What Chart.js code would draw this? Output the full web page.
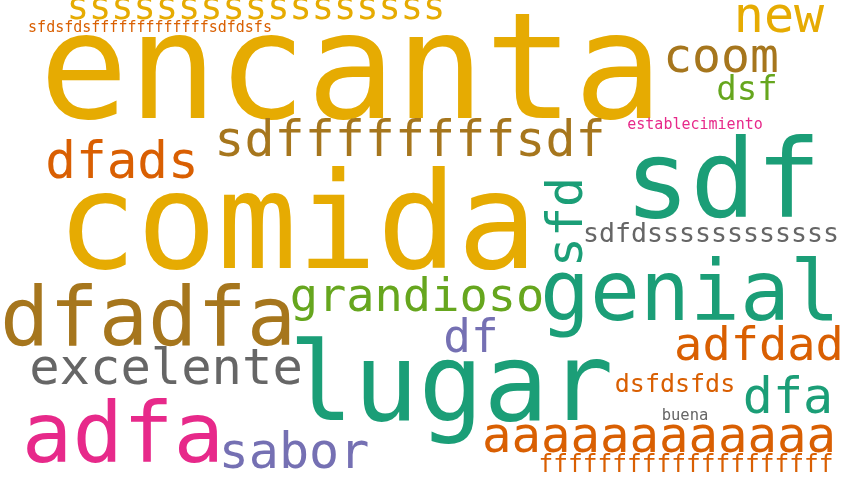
<!DOCTYPE html>
<html>
<head>
<meta charset="utf-8">
<script src="https://cdn.jsdelivr.net/npm/chart.js@4"></script>
<style>
  html, body { margin: 0; padding: 0; background: #fff; }
  #wrap { width: 848px; height: 480px; }
</style>
</head>
<body>
<div id="wrap"><canvas id="cloud"></canvas></div>
<script>
// Words and their weights (font size in px)
const words = ['encanta', 'sssssssssssssssss', 'sfdsfdsfffffffffffffsdfdsfs', 'new', 'coom', 'dsf',
  'establecimiento', 'sdffffffffsdf', 'dfads', 'sdf', 'sfd', 'sdfdssssssssssss', 'comida',
  'grandioso', 'genial', 'dfadfa', 'df', 'adfdad', 'excelente', 'dsfdsfds', 'lugar', 'dfa',
  'buena', 'aaaaaaaaaaaa', 'adfa', 'sabor', 'ffffffffffffffffffff'];
const weights = [148, 37, 15, 50, 48, 34, 15, 50, 51, 109, 50, 26.6, 133,
  47, 83, 82, 46, 47, 50.5, 25, 108, 50, 15.5, 49, 84, 50, 24.5];
// Layout of the cloud (x = centre, y = baseline; rotated words: x = baseline, y = centre)
const wordX = [351, 256, 150, 779, 721, 747, 695, 410, 122, 723, 582, 711, 297,
  417, 690, 148, 471, 759, 166, 675, 451, 788, 685, 659, 123, 294, 686];
const wordY = [118, 19, 32, 32, 72, 100, 129, 156, 178, 217, 222, 242, 268,
  311, 320, 345, 352, 360, 384, 392, 420, 413, 420, 452, 462, 468, 472];
const rotated = words.map(w => w === 'sfd');
// Dark2 palette
const palette = ['#1b9e77', '#d95f02', '#7570b3', '#e7298a', '#66a61e', '#e6ab02', '#a6761d', '#666666'];
const colorIdx = [5, 5, 1, 5, 6, 4, 3, 6, 1, 0, 0, 7, 5,
  4, 0, 6, 2, 1, 7, 1, 0, 0, 7, 1, 3, 2, 1];

const wordPlugin = {
  id: 'words',
  afterDatasetsDraw(chart) {
    const ctx = chart.ctx;
    const xs = chart.scales.x, ys = chart.scales.y;
    words.forEach((w, i) => {
      const px = xs.getPixelForValue(wordX[i]);
      const py = ys.getPixelForValue(wordY[i]);
      ctx.save();
      ctx.translate(px, py);
      ctx.font = weights[i] + 'px "DejaVu Sans Mono"';
      ctx.fillStyle = palette[colorIdx[i]];
      ctx.textBaseline = 'alphabetic';
      ctx.textAlign = 'center';
      if (rotated[i]) ctx.rotate(-Math.PI / 2);
      ctx.fillText(w, 0, 0);
      ctx.restore();
    });
  }
};

new Chart(document.getElementById('cloud'), {
  type: 'scatter',
  data: {
    datasets: [{
      data: words.map((w, i) => ({ x: wordX[i], y: wordY[i] })),
      pointRadius: 0
    }]
  },
  options: {
    responsive: true,
    maintainAspectRatio: false,
    animation: false,
    layout: { padding: 0 },
    plugins: { legend: { display: false }, tooltip: { enabled: false } },
    scales: {
      x: { type: 'linear', min: 0, max: 848, display: false },
      y: { type: 'linear', min: 0, max: 480, reverse: true, display: false }
    }
  },
  plugins: [wordPlugin]
});
</script>
</body>
</html>
